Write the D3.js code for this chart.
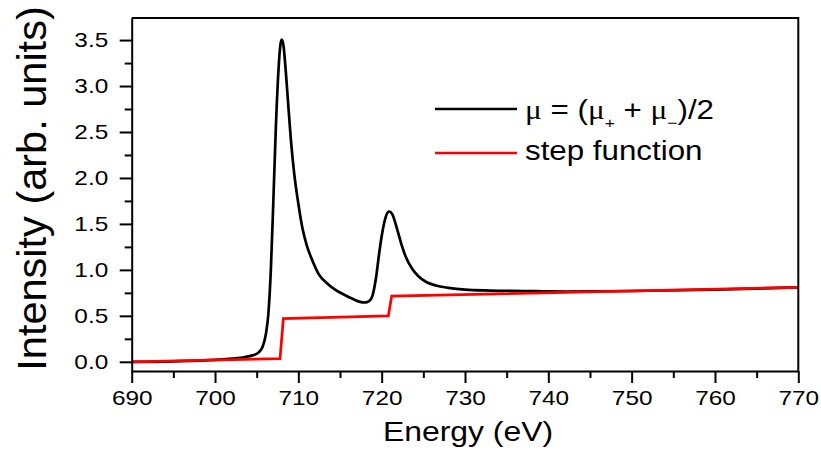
<!DOCTYPE html>
<html>
<head>
<meta charset="utf-8">
<script src="https://cdn.jsdelivr.net/npm/d3@7"></script>
<style>
  html, body { margin: 0; padding: 0; background: #fff; }
  svg { display: block; font-family: "Liberation Sans", Arial, sans-serif; }
</style>
</head>
<body>
<svg id="chart" width="821" height="472"></svg>
<script>
// Average XAS spectrum (eV, arb. units)
const muEnergy = [690, 695, 700, 702, 703.5, 704.5, 705.2, 705.7, 706.1, 706.4, 706.7, 707.0, 707.3, 707.6, 707.85, 708.0,
  708.2, 708.5, 708.8, 709.1, 709.5, 710.0, 710.5, 711.0, 711.6, 712.4, 713.5, 714.5, 715.5, 716.5, 717.3, 718.0,
  718.5, 718.9, 719.3, 719.7, 720.1, 720.5, 720.9, 721.3, 721.8, 722.3, 722.9, 723.6, 724.4, 725.4, 726.5, 728,
  730, 733, 737, 742, 750, 760, 770];
const muValue = [0.0, 0.005, 0.02, 0.035, 0.05, 0.07, 0.1, 0.16, 0.3, 0.52, 1.0, 1.75, 2.55, 3.15, 3.45, 3.505,
  3.45, 3.15, 2.78, 2.42, 2.05, 1.72, 1.45, 1.27, 1.12, 0.96, 0.85, 0.78, 0.73, 0.685, 0.655, 0.645,
  0.66, 0.72, 0.9, 1.18, 1.42, 1.58, 1.635, 1.6, 1.46, 1.3, 1.14, 1.02, 0.93, 0.865, 0.83, 0.805,
  0.785, 0.775, 0.77, 0.765, 0.77, 0.785, 0.81];

// Two-step edge-jump background
const stepEnergy = [690, 707.8, 708.2, 720.8, 721.2, 770];
const stepValue = [0.0, 0.035, 0.47, 0.50, 0.715, 0.81];

const xMajorTicks = [690, 700, 710, 720, 730, 740, 750, 760, 770];
const xMinorTicks = [695, 705, 715, 725, 735, 745, 755, 765];
const yMajorTicks = [0.0, 0.5, 1.0, 1.5, 2.0, 2.5, 3.0, 3.5];
const yMinorTicks = [0.25, 0.75, 1.25, 1.75, 2.25, 2.75, 3.25];

const legendLabels = ["step function"];

// Glyphs are drawn slightly wide
const SX = 1.16;

const svg = d3.select("#chart");
const plot = { left: 131.7, right: 798.3, top: 18, bottom: 371 };

const x = d3.scaleLinear().domain([690, 770]).range([plot.left, plot.right]);
const y = d3.scaleLinear().domain([-0.1, 3.74]).range([plot.bottom, plot.top]);

// Curves
svg.append("path")
  .datum(d3.zip(muEnergy, muValue))
  .attr("d", d3.line().x(d => x(d[0])).y(d => y(d[1])).curve(d3.curveMonotoneX))
  .attr("fill", "none").attr("stroke", "#000").attr("stroke-width", 2.7)
  .attr("stroke-linejoin", "round");

svg.append("path")
  .datum(d3.zip(stepEnergy, stepValue))
  .attr("d", d3.line().x(d => x(d[0])).y(d => y(d[1])))
  .attr("fill", "none").attr("stroke", "#ff0000").attr("stroke-width", 2.7);

// Frame (top and right sides)
svg.append("path")
  .attr("d", `M${plot.left},${plot.top}H${plot.right}V${plot.bottom}`)
  .attr("fill", "none").attr("stroke", "#000").attr("stroke-width", 2);

// Bottom axis
const xAxis = svg.append("g").attr("transform", `translate(0,${plot.bottom})`);
xAxis.call(d3.axisBottom(x).tickValues(xMajorTicks).tickFormat(d3.format("d")).tickSizeInner(12).tickSizeOuter(0).tickPadding(7));
xAxis.append("g").call(d3.axisBottom(x).tickValues(xMinorTicks).tickFormat("").tickSizeInner(7).tickSizeOuter(0))
  .select(".domain").remove();
xAxis.selectAll(".tick text").attr("transform", `scale(${SX},1)`);

// Left axis
const yAxis = svg.append("g").attr("transform", `translate(${plot.left},0)`);
yAxis.call(d3.axisLeft(y).tickValues(yMajorTicks).tickFormat(d3.format(".1f")).tickSizeInner(12).tickSizeOuter(0));
yAxis.append("g").call(d3.axisLeft(y).tickValues(yMinorTicks).tickFormat("").tickSizeInner(7).tickSizeOuter(0))
  .select(".domain").remove();
yAxis.selectAll(".tick text").attr("x", -23.5 / SX).attr("transform", `scale(${SX},1)`);

svg.selectAll(".domain").attr("stroke-width", 2);
svg.selectAll(".tick line").attr("stroke-width", 2);
svg.selectAll(".tick text").attr("font-size", 21).attr("fill", "#000")
  .attr("font-family", '"Liberation Sans", Arial, sans-serif');

// Axis titles
svg.append("text")
  .attr("transform", `translate(${(plot.left + plot.right) / 2 + 3},441) scale(${SX},1)`)
  .attr("text-anchor", "middle").attr("font-size", 27.5)
  .text("Energy (eV)");

svg.append("text")
  .attr("transform", `translate(46,${(plot.top + plot.bottom) / 2 - 6}) rotate(-90)`)
  .attr("text-anchor", "middle").attr("font-size", 41.5)
  .text("Intensity (arb. units)");

// Legend
const lg = svg.append("g");
lg.append("line").attr("x1", 435).attr("x2", 517).attr("y1", 109).attr("y2", 109)
  .attr("stroke", "#000").attr("stroke-width", 2.7);
lg.append("line").attr("x1", 435).attr("x2", 517).attr("y1", 153).attr("y2", 153)
  .attr("stroke", "#ff0000").attr("stroke-width", 2.7);

const serif = '"Liberation Serif", "Times New Roman", serif';
const t1 = lg.append("text").attr("transform", `translate(525,119) scale(${SX},1)`).attr("font-size", 27);
t1.append("tspan").attr("font-family", serif).text("\u03bc");
t1.append("tspan").text(" = (");
t1.append("tspan").attr("font-family", serif).text("\u03bc");
t1.append("tspan").attr("font-size", 15).attr("dy", 9).text("+");
t1.append("tspan").attr("dy", -9).text(" + ");
t1.append("tspan").attr("font-family", serif).text("\u03bc");
t1.append("tspan").attr("font-size", 15).attr("dy", 9).text("\u2212");
t1.append("tspan").attr("dy", -9).text(")/2");

lg.append("text").attr("transform", `translate(525,160) scale(${SX},1)`).attr("font-size", 27).text(legendLabels[0]);
</script>
</body>
</html>
